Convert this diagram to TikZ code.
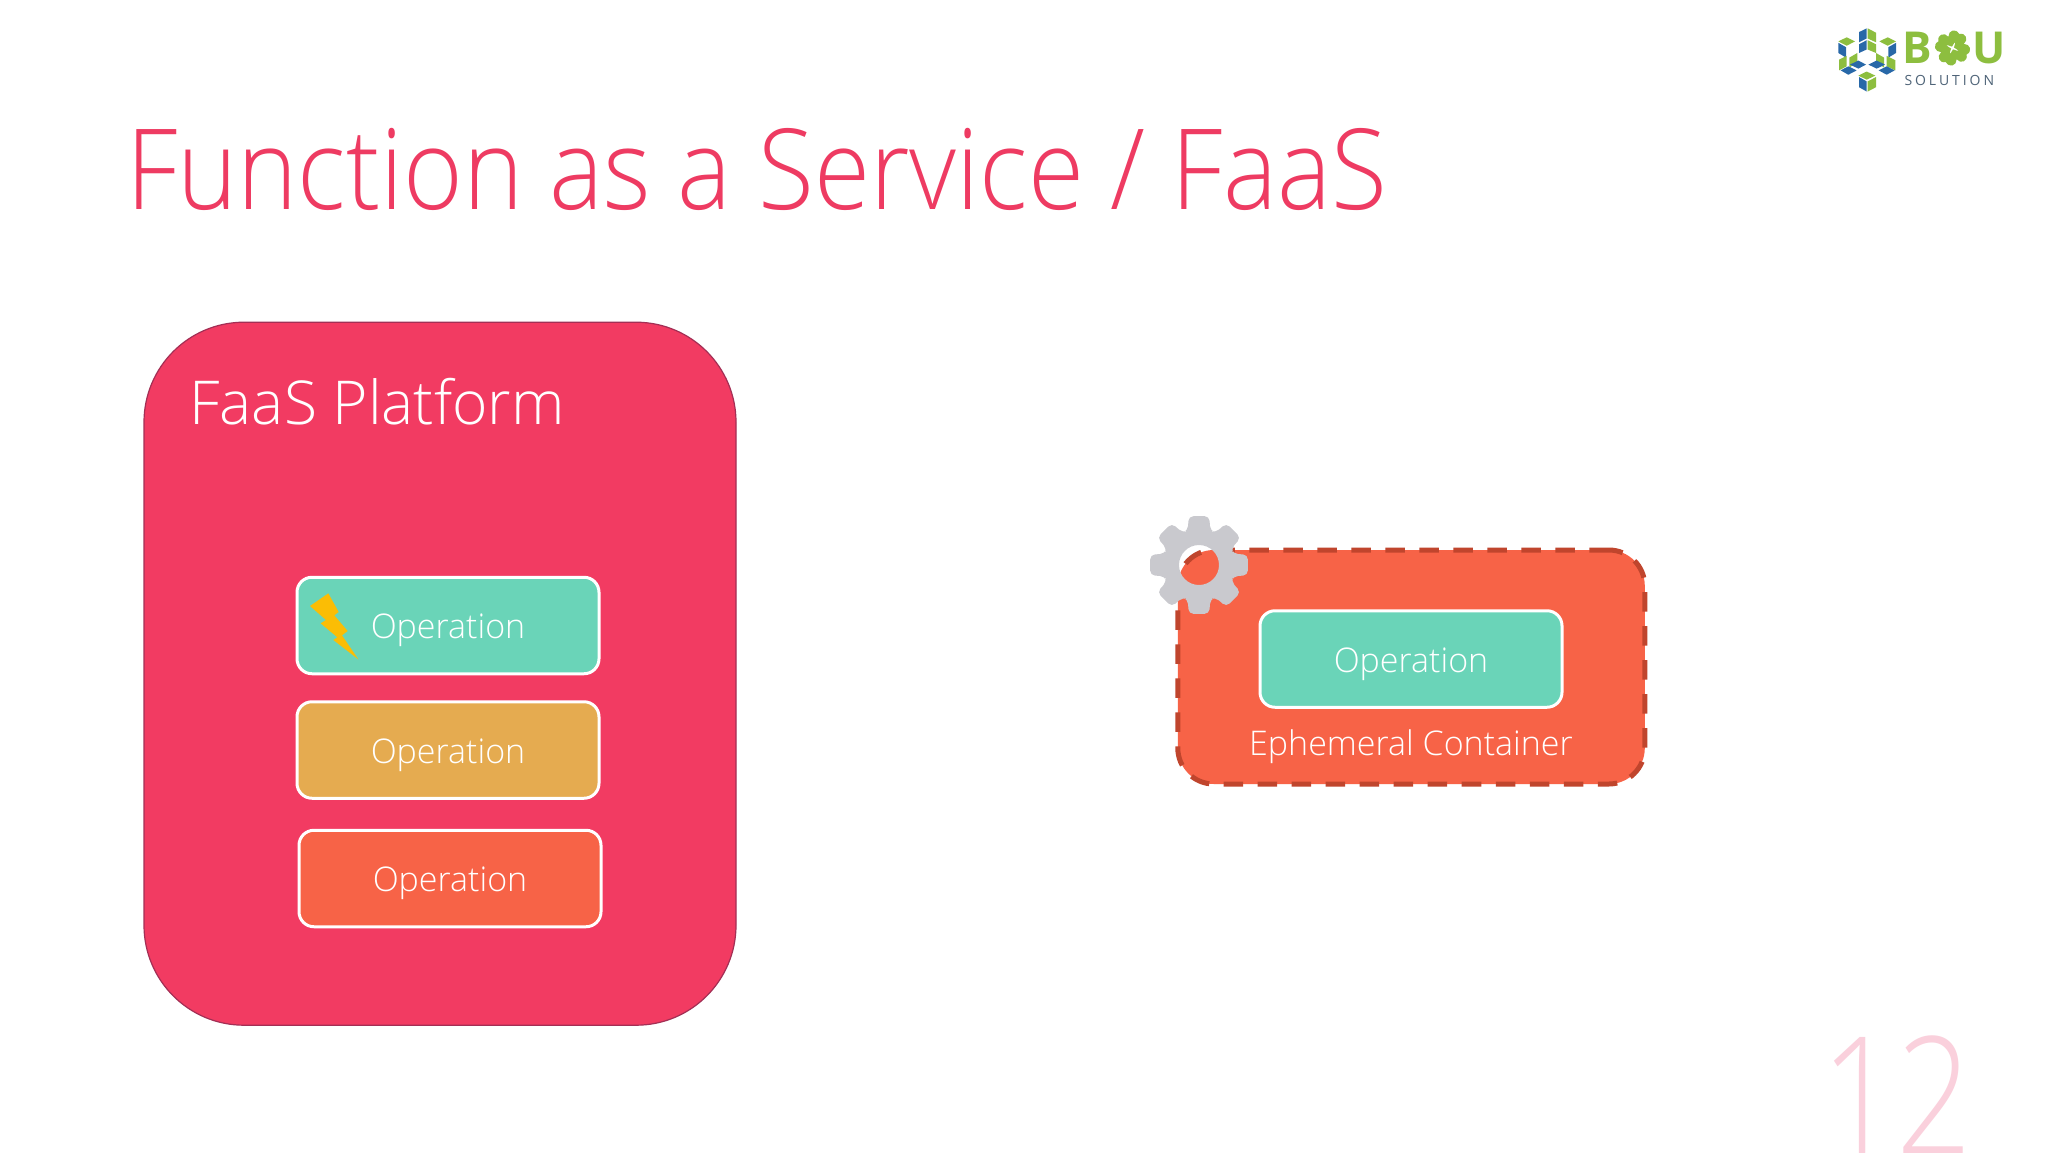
\documentclass[tikz,border=0pt]{standalone}
\usepackage{fontspec}
\setmainfont{Open Sans Light}
\newfontfamily\logofont{Open Sans}
\newfontfamily\logosub[LetterSpace=21]{Open Sans}
\definecolor{titlepink}{HTML}{EE3B62}
\definecolor{platform}{HTML}{F23B62}
\definecolor{platformedge}{HTML}{A32F55}
\definecolor{opgreen}{HTML}{6AD4B8}
\definecolor{opyellow}{HTML}{E5AB50}
\definecolor{opred}{HTML}{F76347}
\definecolor{dashred}{HTML}{C0452D}
\definecolor{gearGrey}{HTML}{C9C9CE}
\definecolor{boltyellow}{HTML}{FBBD05}
\definecolor{pagepink}{HTML}{FAD0DC}
\definecolor{logoGreen}{HTML}{8DBE3F}
\definecolor{logoBlue}{HTML}{2868A8}
\definecolor{logoGrey}{HTML}{4F6478}
\tikzset{
  opbox/.style={draw=white,line width=3pt,rounded corners=15pt,inner sep=0pt,outer sep=0pt,
    minimum width=302pt,minimum height=96.5pt,text=white,
    font=\fontsize{34}{34}\selectfont,text depth=0pt},
  platformbox/.style={fill=platform,draw=platformedge,line width=1.2pt,rounded corners=100pt,
    inner sep=0pt,outer sep=0pt,minimum width=592pt,minimum height=703pt},
  containerbox/.style={fill=opred,draw=dashred,line width=5pt,rounded corners=36pt,
    dash pattern=on 19.5pt off 14.5pt,inner sep=0pt,outer sep=0pt,
    minimum width=467pt,minimum height=234pt},
  plain/.style={inner sep=0pt,outer sep=0pt},
  lg/.style={fill=logoGreen},
  lb/.style={fill=logoBlue},
}
\begin{document}
\begin{tikzpicture}[x=1pt,y=-1pt]
\useasboundingbox (0,0) rectangle (2048,1152);
\fill[white] (0,0) rectangle (2048,1152);

% title
\node[plain,anchor=base west,text=titlepink,font=\fontsize{112}{112}\selectfont] (title) at (126,209) {\scalebox{0.911}[1]{Function as a Service / FaaS}};

% platform
\node[platformbox] (platform) at (440,673.7) {};
\node[plain,anchor=base west,text=white,font=\fontsize{60.5}{60.5}\selectfont] (platformlabel) at (189.5,424) {FaaS Platform};
\node[opbox,fill=opgreen,text height=26pt] (op1) at (448,625.5) {Operation};
\node[opbox,fill=opyellow,text height=26pt] (op2) at (448,750) {Operation};
\node[opbox,fill=opred,text height=25pt] (op3) at (450,878.5) {Operation};

% lightning
\begin{scope}[shift={(280,560)},x=0.3333pt,y=-0.3333pt]
  \fill[boltyellow] (90,138) -- (145,100) -- (176,156) -- (163,166) -- (203,213) -- (186,226) -- (235,298) -- (160,240) -- (172,232) -- (122,190) -- (138,180) -- cycle;
\end{scope}

% container
\node[containerbox] (container) at (1411.3,667) {};
\node[opbox,fill=opgreen,text height=26pt] (op4) at (1411,659) {Operation};
\node[plain,anchor=base,text=white,font=\fontsize{34}{34}\selectfont] (eph) at (1411,755) {Ephemeral Container};

% gear (hole lets the container show through)
\begin{scope}[shift={(1199,565)}]
  \fill[gearGrey,even odd rule,rounded corners=5pt]
    (-18:36) -- (-12:50) -- (12:50) -- (18:36)
    \foreach \a in {45,90,...,315}{
      -- (\a-18:36) -- (\a-12:50) -- (\a+12:50) -- (\a+18:36)
    } -- cycle
    (0,0) circle [radius=20];
\end{scope}

% page number
\node[plain,anchor=base west,text=pagepink,font=\fontsize{164}{164}\selectfont] (pagenum) at (1821,1154) {\scalebox{0.81}[1]{12}};

% logo
\begin{scope}[shift={(1800,3.1)},x=0.3333pt,y=-0.29pt]
  \fill[lb] (177,100)--(200,87)--(200,122)--(177,135)--cycle;
  \fill[lg] (203,87)--(228,102)--(228,135)--(203,122)--cycle;
  \fill[lb] (177,142)--(200,128)--(200,160)--(177,172)--cycle;
  \fill[lg] (203,128)--(228,142)--(228,172)--(203,160)--cycle;
  \fill[lg] (115,132)--(140,118)--(165,132)--(140,147)--cycle;
  \fill[lb] (115,137)--(138,152)--(138,188)--(115,172)--cycle;
  \fill[lg] (238,132)--(263,118)--(288,132)--(263,147)--cycle;
  \fill[lb] (265,152)--(288,137)--(288,172)--(265,188)--cycle;
  \fill[lg] (148,188)--(172,172)--(172,205)--(148,222)--cycle;
  \fill[lg] (117,195)--(140,182)--(140,218)--(117,232)--cycle;
  \fill[lg] (228,172)--(252,188)--(252,222)--(228,205)--cycle;
  \fill[lg] (260,182)--(286,197)--(286,232)--(260,218)--cycle;
  \fill[lb] (150,212)--(175,198)--(198,212)--(175,226)--cycle;
  \fill[lb] (205,212)--(230,198)--(255,212)--(230,226)--cycle;
  \fill[lb] (122,232)--(145,218)--(170,232)--(145,247)--cycle;
  \fill[lb] (236,232)--(260,218)--(284,232)--(260,247)--cycle;
  \fill[lg] (175,250)--(200,236)--(226,250)--(200,264)--cycle;
  \fill[lb] (177,255)--(200,270)--(200,305)--(177,290)--cycle;
  \fill[lg] (203,270)--(228,255)--(228,290)--(203,305)--cycle;
\end{scope}
\node[plain,anchor=base west,text=logoGreen,font=\logofont\bfseries\fontsize{44}{44}\selectfont] (logoB) at (1902,63.5) {B};
\node[plain,anchor=base east,text=logoGreen,font=\logofont\bfseries\fontsize{44}{44}\selectfont] (logoU) at (2006,63.5) {U};
\begin{scope}[shift={(1952.5,48)}]
  \foreach \r in {20,110,200,290}{
    \fill[logoGreen,rotate=\r] (0,-1.5) .. controls (-3,-6) and (-13,-5) .. (-11,-11) .. controls (-10,-18) and (-2,-18) .. (0,-12) .. controls (2,-18) and (10,-18) .. (11,-11) .. controls (13,-5) and (3,-6) .. (0,-1.5) -- cycle;
  }
\end{scope}
\node[plain,anchor=base west,text=logoGrey,font=\logosub\fontsize{14}{14}\selectfont] (logosub) at (1904.5,85) {SOLUTION};
\end{tikzpicture}
\end{document}
